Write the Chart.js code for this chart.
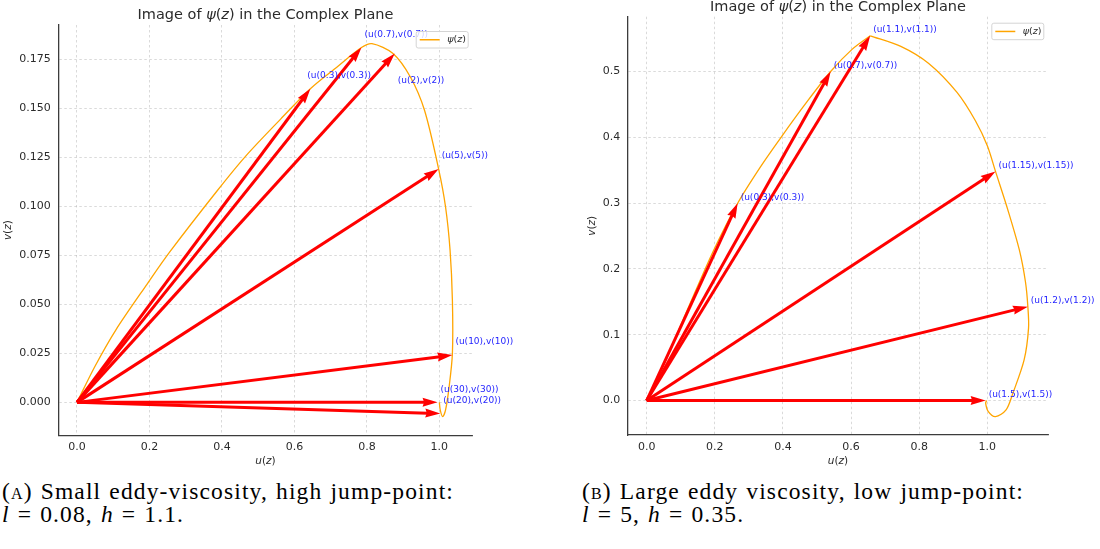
<!DOCTYPE html>
<html>
<head>
<meta charset="utf-8">
<script src="https://cdn.jsdelivr.net/npm/chart.js@4.4.0/dist/chart.umd.min.js"></script>
<style>
  body { margin: 0; background: #fff; width: 1100px; height: 549px; overflow: hidden; position: relative; }
  canvas { position: absolute; top: 0; }
  #chartA { left: 0; }
  #chartB { left: 550px; }
  .caption { position: absolute; font-family: "Liberation Serif", serif; font-size: 23.5px; line-height: 23px; letter-spacing: 1.15px; word-spacing: 1px; color: #000; white-space: nowrap; }
  .sc { font-variant: small-caps; }
  #capA { left: 2px; top: 480px; }
  #capB { left: 582px; top: 480px; }
</style>
</head>
<body>
<canvas id="chartA" width="550" height="475"></canvas>
<canvas id="chartB" width="550" height="475"></canvas>
<div class="caption" id="capA">(<span class="sc">a</span>) Small eddy-viscosity, high jump-point:<br><i>l</i> = 0.08, <i>h</i> = 1.1.</div>
<div class="caption" id="capB">(<span class="sc">b</span>) Large eddy viscosity, low jump-point:<br><i>l</i> = 5, <i>h</i> = 0.35.</div>
<script>
// ---- panel A : l = 0.08, h = 1.1 ----
const curveA_u = [0, 0.049, 0.107, 0.194, 0.255, 0.388, 0.465, 0.562, 0.644, 0.717, 0.785, 0.814, 0.872, 0.920, 0.959, 0.998, 1.017, 1.0295, 1.036, 1.036, 1.027, 1.017, 1.009, 1.0025, 1.0];
const curveA_v = [0, 0.0182, 0.0369, 0.0605, 0.0765, 0.1082, 0.1255, 0.1445, 0.160, 0.171, 0.181, 0.183, 0.178, 0.166, 0.149, 0.119, 0.0998, 0.0777, 0.052, 0.025, 0.008, -0.004, -0.0073, -0.004, 0.0];
const arrowA_z = ['0.3', '0.7', '2', '5', '10', '20', '30'];
const arrowA_u = [0.644, 0.785, 0.877, 0.998, 1.036, 1.0025, 0.995];
const arrowA_v = [0.160, 0.181, 0.178, 0.119, 0.0241, -0.0057, 0.0];
const xTicksA = [0, 0.2, 0.4, 0.6, 0.8, 1.0];
const yTicksA = [0, 0.025, 0.05, 0.075, 0.1, 0.125, 0.15, 0.175];

// ---- panel B : l = 5, h = 0.35 (curve has a corner at z = 1.1) ----
const curveB1_u = [0, 0.056, 0.128, 0.197, 0.267, 0.334, 0.396, 0.468, 0.540, 0.602, 0.656];
const curveB1_v = [0, 0.0616, 0.148, 0.2287, 0.2997, 0.355, 0.401, 0.452, 0.4997, 0.533, 0.554];
const curveB2_u = [0.656, 0.746, 0.828, 0.911, 0.965, 1.000, 1.024, 1.060, 1.094, 1.112, 1.119, 1.121, 1.108, 1.075, 1.055, 1.024, 1.003, 0.995, 0.998];
const curveB2_v = [0.554, 0.538, 0.512, 0.468, 0.425, 0.387, 0.348, 0.290, 0.2287, 0.180, 0.1426, 0.110, 0.0616, 0.011, -0.0144, -0.0246, -0.017, -0.004, 0.0];
const arrowB_z = ['0.3', '0.7', '1.1', '1.15', '1.2', '1.5'];
const arrowB_u = [0.267, 0.540, 0.656, 1.024, 1.119, 0.995];
const arrowB_v = [0.2997, 0.4997, 0.554, 0.348, 0.1426, 0.0];
const xTicksB = [0, 0.2, 0.4, 0.6, 0.8, 1.0];
const yTicksB = [0, 0.1, 0.2, 0.3, 0.4, 0.5];

const FONT = '"DejaVu Sans"';
const TEXT = '#2b2b2b';

function pts(us, vs) {
  return us.map((u, i) => ({ x: u, y: vs[i] }));
}

// text made of plain / italic pieces, like matplotlib mathtext
function richText(ctx, parts, x, y, size, align) {
  const fonts = parts.map(p => (p[1] ? 'italic ' : '') + size + 'px ' + FONT);
  const widths = parts.map((p, i) => { ctx.font = fonts[i]; return ctx.measureText(p[0]).width; });
  const total = widths.reduce((a, b) => a + b, 0);
  let cx = align === 'center' ? x - total / 2 : x;
  ctx.textAlign = 'left';
  ctx.textBaseline = 'middle';
  parts.forEach((p, i) => { ctx.font = fonts[i]; ctx.fillText(p[0], cx, y); cx += widths[i]; });
}

function drawArrow(ctx, x0, y0, x1, y1) {
  const w = 3, hl = 15, hal = 13.5, hw = 4.5;
  const dx = x1 - x0, dy = y1 - y0, len = Math.hypot(dx, dy);
  const ux = dx / len, uy = dy / len, nx = -uy, ny = ux;
  const bx = x1 - ux * hal, by = y1 - uy * hal;
  ctx.strokeStyle = '#ff0000';
  ctx.lineWidth = w;
  ctx.beginPath();
  ctx.moveTo(x0, y0);
  ctx.lineTo(bx + ux, by + uy);
  ctx.stroke();
  ctx.fillStyle = '#ff0000';
  ctx.beginPath();
  ctx.moveTo(x1, y1);
  ctx.lineTo(x1 - ux * hl + nx * hw, y1 - uy * hl + ny * hw);
  ctx.lineTo(bx, by);
  ctx.lineTo(x1 - ux * hl - nx * hw, y1 - uy * hl - ny * hw);
  ctx.closePath();
  ctx.fill();
}

const psi = [['ψ', true], ['(', false], ['z', true], [')', false]];

const decorations = {
  id: 'decorations',
  afterDatasetsDraw(chart, args, o) {
    const { ctx, chartArea: ca, scales: { x, y } } = chart;
    const x0 = x.getPixelForValue(0), y0 = y.getPixelForValue(0);

    // arrows from the origin
    ctx.save();
    ctx.beginPath();
    ctx.rect(ca.left, ca.top, ca.width, ca.height);
    ctx.clip();
    o.u.forEach((u, i) => drawArrow(ctx, x0, y0, x.getPixelForValue(u), y.getPixelForValue(o.v[i])));
    ctx.restore();

    // point labels
    ctx.save();
    ctx.fillStyle = '#1f1fff';
    ctx.font = '9px ' + FONT;
    ctx.textAlign = 'left';
    ctx.textBaseline = 'middle';
    o.z.forEach((z, i) => {
      const px = x.getPixelForValue(o.u[i]), py = y.getPixelForValue(o.v[i]);
      ctx.fillText('(u(' + z + '),v(' + z + '))', px + o.labelDx[i], py + o.labelDy[i]);
    });
    ctx.restore();

    // legend box
    ctx.save();
    const bw = 52, bh = 16.5;
    const bl = ca.right - 4.5 - bw, bt = ca.top + 6.5;
    ctx.fillStyle = 'rgba(255,255,255,0.8)';
    ctx.strokeStyle = '#d4d4d4';
    ctx.lineWidth = 1;
    ctx.beginPath();
    ctx.roundRect(bl, bt, bw, bh, 2);
    ctx.fill();
    ctx.stroke();
    ctx.strokeStyle = 'orange';
    ctx.lineWidth = 1.5;
    ctx.beginPath();
    ctx.moveTo(bl + 3.5, bt + bh / 2);
    ctx.lineTo(bl + 23.5, bt + bh / 2);
    ctx.stroke();
    ctx.fillStyle = TEXT;
    richText(ctx, psi, bl + 31, bt + bh / 2, 9.5, 'left');
    ctx.restore();
  },
  afterDraw(chart) {
    const { ctx, chartArea: ca, scales: { y } } = chart;
    ctx.save();
    ctx.fillStyle = TEXT;
    // title
    richText(ctx, [['Image of ', false]].concat(psi, [[' in the Complex Plane', false]]),
      (ca.left + ca.right) / 2, ca.top - 9.5, 14.5, 'center');
    // x label
    richText(ctx, [['u', true], ['(', false], ['z', true], [')', false]],
      (ca.left + ca.right) / 2, ca.bottom + 26, 10.5, 'center');
    // y label, placed left of the widest tick label
    ctx.font = '11px ' + FONT;
    let tw = 0;
    y.ticks.forEach(t => { tw = Math.max(tw, ctx.measureText(t.label).width); });
    ctx.translate(ca.left - 7.5 - tw - 4.5 - 6.3, (ca.top + ca.bottom) / 2);
    ctx.rotate(-Math.PI / 2);
    richText(ctx, [['v', true], ['(', false], ['z', true], [')', false]], 0, 0, 10.5, 'center');
    ctx.restore();
  }
};

function makeChart(id, p) {
  const curveStyle = { showLine: true, borderColor: 'orange', borderWidth: 1.3, pointRadius: 0, tension: 0.3, fill: false };
  return new Chart(document.getElementById(id), {
    type: 'scatter',
    data: { datasets: p.curves.map(c => Object.assign({ data: c }, curveStyle)) },
    options: {
      responsive: false,
      animation: false,
      devicePixelRatio: 1,
      layout: { padding: { left: 0, right: p.padRight, top: p.padTop, bottom: 0 } },
      plugins: {
        legend: { display: false },
        tooltip: { enabled: false },
        decorations: p.marks
      },
      scales: {
        x: {
          type: 'linear', min: p.xMin, max: p.xMax,
          afterBuildTicks: s => { s.ticks = p.xTicks.map(v => ({ value: v })); },
          afterFit: s => { s.height = p.xAxisH; },
          ticks: { font: { family: 'DejaVu Sans', size: 11 }, color: TEXT, padding: 5.5, maxRotation: 0, autoSkip: false,
                   callback: v => v.toFixed(1) },
          grid: { color: 'rgba(170,170,170,0.55)', lineWidth: 0.8, drawTicks: false },
          border: { display: true, color: '#3c3c3c', width: 1.3, dash: [2.5, 2.5] }
        },
        y: {
          type: 'linear', min: p.yMin, max: p.yMax,
          afterBuildTicks: s => { s.ticks = p.yTicks.map(v => ({ value: v })); },
          afterFit: s => { s.width = p.yAxisW; },
          ticks: { font: { family: 'DejaVu Sans', size: 11 }, color: TEXT, padding: 7.5, autoSkip: false,
                   callback: v => v.toFixed(p.yDec) },
          grid: { color: 'rgba(170,170,170,0.55)', lineWidth: 0.8, drawTicks: false },
          border: { display: true, color: '#3c3c3c', width: 1.3, dash: [2.5, 2.5] }
        }
      }
    },
    plugins: [decorations]
  });
}

makeChart('chartA', {
  curves: [pts(curveA_u, curveA_v)],
  marks: { z: arrowA_z, u: arrowA_u, v: arrowA_v,
           labelDx: [-3, 3, 3, 3, 3, 3, 3], labelDy: [-13, -13, 27, -13, -13, -13, -13] },
  xMin: -0.0516, xMax: 1.092, yMin: -0.0168, yMax: 0.1925,
  xTicks: xTicksA, yTicks: yTicksA, yDec: 3,
  yAxisW: 58.3, xAxisH: 39.7, padRight: 77.3, padTop: 25
});

makeChart('chartB', {
  curves: [pts(curveB1_u, curveB1_v), pts(curveB2_u, curveB2_v)],
  marks: { z: arrowB_z, u: arrowB_u, v: arrowB_v,
           labelDx: [3, 3, 3, 3, 3, 3], labelDy: [-6, -6, -6, -6, -6, -6] },
  xMin: -0.0558, xMax: 1.179, yMin: -0.0524, yMax: 0.583,
  xTicks: xTicksB, yTicks: yTicksB, yDec: 1,
  yAxisW: 77.7, xAxisH: 40, padRight: 51.7, padTop: 16.7
});
</script>
</body>
</html>
